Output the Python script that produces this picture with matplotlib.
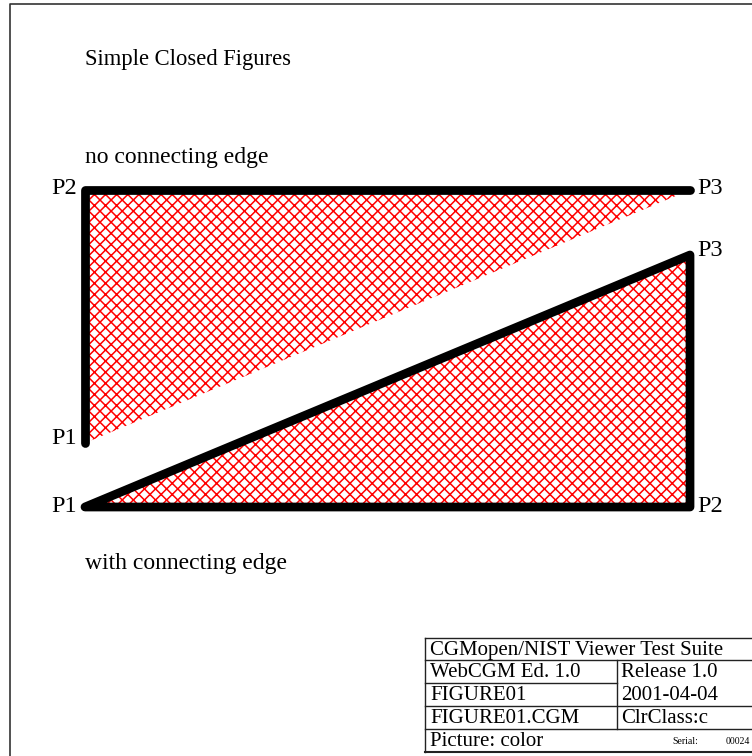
import matplotlib.pyplot as plt
from matplotlib.patches import Polygon

plt.rcParams['font.family'] = ['Liberation Serif', 'DejaVu Serif']
plt.rcParams['hatch.linewidth'] = 1.1

# figure coordinates are in pixels (y grows downward)
OPEN_PTS   = [(85, 443), (85, 190), (690, 190)]   # P1, P2, P3
CLOSED_PTS = [(85, 507), (690, 507), (690, 255)]  # P1, P2, P3
OPEN_LABELS   = ['P1', 'P2', 'P3']
CLOSED_LABELS = ['P1', 'P2', 'P3']
OPEN_DY   = [-5, -1, -2]
CLOSED_DY = [-1, -1, -4]

TITLE       = 'Simple Closed Figures'
OPEN_TEXT   = 'no connecting edge'
CLOSED_TEXT = 'with connecting edge'

TABLE_ROWS = ['CGMopen/NIST Viewer Test Suite', 'WebCGM Ed. 1.0', 'FIGURE01',
              'FIGURE01.CGM', 'Picture: color']
TABLE_RIGHT = ['Release 1.0', '2001-04-04', 'ClrClass:c']
SERIAL = ('Serial:', '00024')

FS = 15
LBL = 17.5

fig = plt.figure(figsize=(7.52, 7.56), dpi=100)
ax = fig.add_axes([0, 0, 1, 1])
ax.set_xlim(0, 752)
ax.set_ylim(756, 0)
ax.axis('off')

# page frame
ax.plot([10, 10, 752], [756, 4, 4], color='#333333', lw=1.2)

ax.text(85, 60, TITLE, fontsize=16.3, va='center')
ax.text(85, 157, OPEN_TEXT, fontsize=17, va='center')
ax.text(85, 563, CLOSED_TEXT, fontsize=17, va='center')

# open figure: filled, but edge only P1-P2-P3
ax.add_patch(Polygon(OPEN_PTS, closed=True, facecolor='none', edgecolor='red',
                     lw=0, hatch='xxx'))
xs, ys = zip(*OPEN_PTS)
ax.plot(xs, ys, color='black', lw=6.3, solid_capstyle='round', solid_joinstyle='round')

# closed figure
ax.add_patch(Polygon(CLOSED_PTS, closed=True, facecolor='none', edgecolor='red',
                     lw=0, hatch='xxx'))
ax.add_patch(Polygon(CLOSED_PTS, closed=True, facecolor='none', edgecolor='black',
                     lw=6.3, joinstyle='round', capstyle='round'))

for pts, labs, dys in [(OPEN_PTS, OPEN_LABELS, OPEN_DY),
                       (CLOSED_PTS, CLOSED_LABELS, CLOSED_DY)]:
    for (x, y), lab, dy in zip(pts, labs, dys):
        if x < 300:
            ax.text(x - 8, y + dy, lab, fontsize=LBL, ha='right', va='center')
        else:
            ax.text(x + 7, y + dy, lab, fontsize=LBL, ha='left', va='center')

# title block
tl, tr, tm = 425, 752, 617
rows = [638, 660, 683, 706, 729, 752]
lc = '#222222'
ax.plot([tl, tr], [rows[0], rows[0]], color=lc, lw=1)
ax.plot([tl, tr], [rows[1], rows[1]], color=lc, lw=1)
ax.plot([tl, tm], [rows[2], rows[2]], color=lc, lw=1)
ax.plot([tl, tr], [rows[3], rows[3]], color=lc, lw=1)
ax.plot([tl, tr], [rows[4], rows[4]], color=lc, lw=1)
ax.plot([tl, tr], [rows[5], rows[5]], color=lc, lw=1.5)
ax.plot([tl, tl], [rows[0], rows[5]], color=lc, lw=1)
ax.plot([tm, tm], [rows[1], rows[4]], color=lc, lw=1)

for i, t in enumerate(TABLE_ROWS):
    ax.text(tl + 5, (rows[i] + rows[i + 1]) / 2 + 1, t, fontsize=FS, va='center')
for i, t in enumerate(TABLE_RIGHT):
    ax.text(tm + 4, (rows[i + 1] + rows[i + 2]) / 2 + 1, t, fontsize=FS, va='center')
ax.text(672, 742, SERIAL[0], fontsize=7, va='center', ha='left')
ax.text(750, 742, SERIAL[1], fontsize=7, va='center', ha='right')

fig.savefig('out.png', dpi=100)
